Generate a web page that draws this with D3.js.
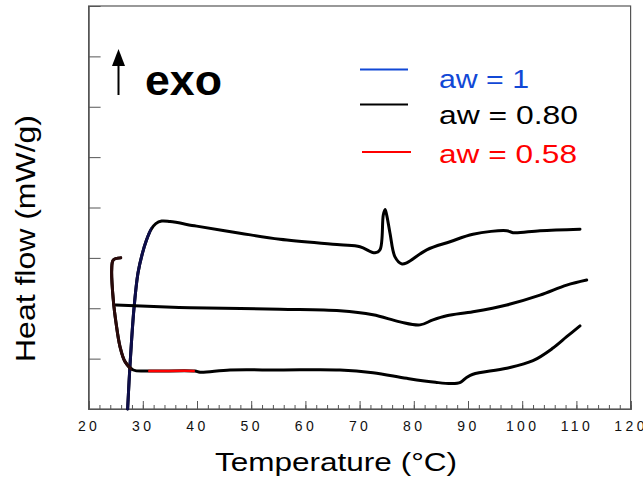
<!DOCTYPE html>
<html><head><meta charset="utf-8">
<script src="https://cdn.jsdelivr.net/npm/d3@7"></script>
<style>
html,body{margin:0;padding:0;background:#fff;}
svg{display:block;font-family:"Liberation Sans",Arial,sans-serif;}
</style></head>
<body><svg id="c" width="643" height="489"></svg>
<script>
// ---- data (temperature °C, heat flow in arbitrary tick units) ----
const xTicks = [20,30,40,50,60,70,80,90,100,110,120];
const xMinor = d3.range(20,121,2);
const yTicks = [1,2,3,4,5,6,7];

const aw1T = [27.2,27.64,28.38,29.11,29.9,30.7,31.5,32.4,33.49,35.02,39.94,47.93,55.31,66.38,70.07,72.84,73.76,74.37,74.7,75.0,75.61,76.53,77.77,78.69,82.38,86.68,90.92,97.14,98.3,103.28,110.66];
const aw1V = [0,0.873,2.005,2.70,3.08,3.36,3.56,3.68,3.73,3.72,3.63,3.49,3.37,3.26,3.22,3.10,3.16,3.85,3.96,3.85,3.49,3.02,2.88,2.90,3.16,3.32,3.47,3.54,3.50,3.54,3.57];
const aw1ColouredUpTo = 31.6;   // temperature up to which the series colour shows

const aw080T = [25.06,33.17,38.71,55.31,66.38,72.47,77.45,81.14,83.54,86.07,90.92,97.14,103.28,108.21,111.9];
const aw080V = [2.065,2.03,2.01,1.98,1.95,1.87,1.73,1.67,1.77,1.85,1.93,2.065,2.26,2.46,2.56];

const aw058T = [25.92,24.56,24.26,24.56,25.06,25.79,26.72,28.25,31.01,39.63,40.55,46.09,55.31,66.38,72.47,78.69,84.0,87.0,88.6,89.8,90.92,97.14,101.99,105.68,108.21,110.66];
const aw058V = [3.00,2.96,2.76,2.16,1.71,1.24,0.94,0.774,0.754,0.754,0.73,0.774,0.774,0.774,0.72,0.61,0.53,0.505,0.53,0.63,0.69,0.81,0.96,1.21,1.435,1.65];
const aw058Red = [31.0,39.6];     // temperature span drawn in the series colour
const aw058DarkUpTo = 28.0;

const legendLabels = ["aw = 1","aw = 0.80","aw = 0.58"];
const legendColors = ["#1148d6","#000000","#ff0000"];

// ---- chart ----
const svg = d3.select("#c");
const x = d3.scaleLinear().domain([20,120]).range([88.6,630.6]);
const y = d3.scaleLinear().domain([0,8]).range([409,6]);

const frameColor = "#555";
svg.append("rect").attr("x",x(20)).attr("y",y(8)).attr("width",x(120)-x(20)).attr("height",y(0)-y(8))
  .attr("fill","none").attr("stroke",frameColor).attr("stroke-width",1.2);

const gMinor = svg.append("g").attr("transform",`translate(0,${y(0)})`)
  .call(d3.axisBottom(x).tickValues(xMinor).tickSize(-4).tickFormat(""));
const gX = svg.append("g").attr("transform",`translate(0,${y(0)})`)
  .call(d3.axisBottom(x).tickValues(xTicks).tickSize(-8).tickFormat(d3.format("d")));
[gMinor,gX].forEach(g=>{g.select(".domain").attr("stroke",frameColor).attr("stroke-width",1.2);
  g.selectAll(".tick line").attr("stroke",frameColor);});
gX.selectAll(".tick text").attr("font-size",14).attr("fill","#111").attr("letter-spacing","3.4px")
  .attr("font-family","Liberation Sans, Arial, sans-serif").attr("y",22).attr("dy",0);

const gY = svg.append("g").attr("transform",`translate(${x(20)},0)`)
  .call(d3.axisLeft(y).tickValues(yTicks).tickSize(-12).tickFormat(""));
gY.select(".domain").attr("stroke",frameColor).attr("stroke-width",1.2);
gY.selectAll(".tick line").attr("stroke",frameColor);

svg.append("text").attr("x",215).attr("y",471).attr("font-size",25).attr("fill","#000")
  .attr("textLength",242).attr("lengthAdjust","spacingAndGlyphs").text("Temperature (°C)");
svg.append("text").attr("transform","translate(35,362) rotate(-90)").attr("font-size",28).attr("fill","#000")
  .attr("textLength",247).attr("lengthAdjust","spacingAndGlyphs").text("Heat flow (mW/g)");

const defs = svg.append("defs");
function clip(id,t0,t1){
  defs.append("clipPath").attr("id",id).append("rect")
    .attr("x",x(t0)).attr("y",0).attr("width",x(t1)-x(t0)).attr("height",489);
  return `url(#${id})`;
}

const line = d3.line().x(d=>x(d[0])).y(d=>y(d[1])).curve(d3.curveCatmullRom.alpha(0.5));
const zip = (a,b)=>a.map((t,i)=>[t,b[i]]);
const plot = svg.append("g");
function draw(pts,color,w,clipUrl){
  const p = plot.append("path").datum(pts).attr("d",line).attr("fill","none").attr("stroke",color)
    .attr("stroke-width",w).attr("stroke-linejoin","round").attr("stroke-linecap","round");
  if(clipUrl) p.attr("clip-path",clipUrl);
}
const p1 = zip(aw1T,aw1V), p2 = zip(aw080T,aw080V), p3 = zip(aw058T,aw058V);

draw(p1,"#000",3);
draw(p1,"#0e0e4a",3,clip("c1",20,aw1ColouredUpTo));

draw(p2,"#000",3);

draw(p3,"#000",3);
draw(p3,"#2a0a0a",3,clip("c3a",20,aw058DarkUpTo));
draw(p3,"#ff0000",2.5,clip("c3b",aw058Red[0],aw058Red[1]));

// exo arrow
svg.append("line").attr("x1",118.5).attr("x2",118.5).attr("y1",95).attr("y2",62)
  .attr("stroke","#000").attr("stroke-width",2);
svg.append("path").attr("d","M118.5,49 L112,66 L125,66 Z").attr("fill","#000");
svg.append("text").attr("x",145).attr("y",95).attr("font-size",42).attr("font-weight","bold")
  .attr("textLength",77).attr("lengthAdjust","spacingAndGlyphs").text("exo");

// legend
const legY = [69.5,104.5,152];
const legTextY = [87.5,124,163];
const legLen = [90,139,138];
const lg = svg.append("g");
legendLabels.forEach((lab,i)=>{
  lg.append("line").attr("x1",i===2?362:360).attr("x2",i===2?411:408).attr("y1",legY[i]).attr("y2",legY[i])
    .attr("stroke",legendColors[i]).attr("stroke-width",2);
  lg.append("text").attr("x",439).attr("y",legTextY[i]).attr("font-size",26).attr("fill",legendColors[i])
    .attr("textLength",legLen[i]).attr("lengthAdjust","spacingAndGlyphs").text(lab);
});
</script></body></html>
